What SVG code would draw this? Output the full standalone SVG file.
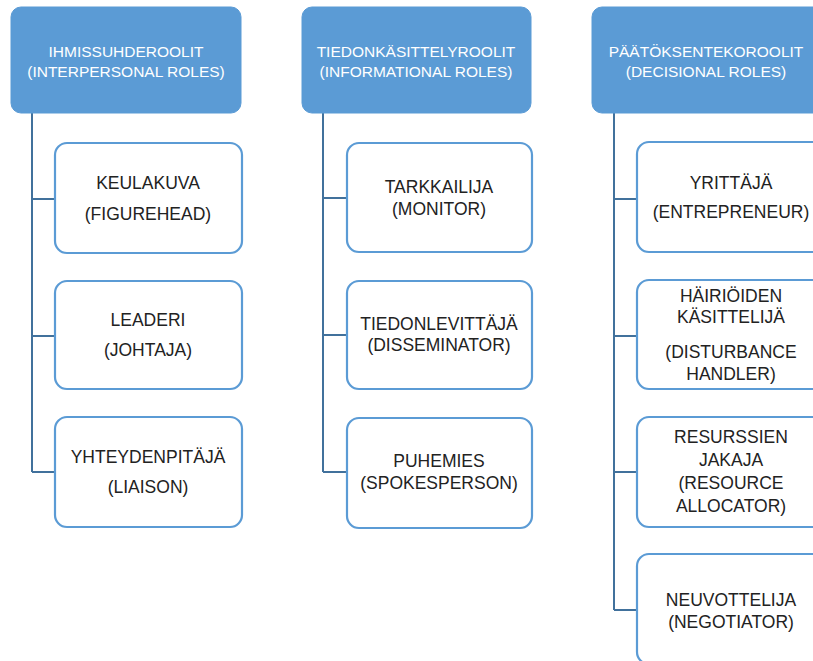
<svg xmlns="http://www.w3.org/2000/svg" width="813" height="661" viewBox="0 0 813 661">
<style>
.hdr{fill:#5B9BD5;stroke:#5B9BD5;stroke-width:1}
.box{fill:#FFFFFF;stroke:#5B9BD5;stroke-width:2.2}
.ht{font-family:"Liberation Sans",Arial,sans-serif;font-size:15.5px;fill:#FFFFFF;text-anchor:middle}
.bt{font-family:"Liberation Sans",Arial,sans-serif;font-size:17.5px;fill:#222222;text-anchor:middle}
.con{fill:none;stroke:#41719C;stroke-width:2}
</style>
<rect width="813" height="661" fill="#FFFFFF"/>
<g id="connectors">
<path class="con" d="M32,113 V472 M32,199 H55 M32,336 H55 M32,472 H55"/>
<path class="con" d="M323,113 V472 M323,198 H347 M323,335 H347 M323,472 H347"/>
<path class="con" d="M614,113 V610 M614,199 H637 M614,336 H637 M614,472 H637 M614,610 H637"/>
</g>
<g id="h1"><rect class="hdr" x="11" y="7" width="230" height="106" rx="10"/>
<text class="ht" x="126" y="57">IHMISSUHDEROOLIT</text><text class="ht" x="126" y="77">(INTERPERSONAL ROLES)</text></g>
<g id="h2"><rect class="hdr" x="302" y="7" width="229" height="106" rx="10"/>
<text class="ht" x="416" y="57">TIEDONKÄSITTELYROOLIT</text><text class="ht" x="416" y="77">(INFORMATIONAL ROLES)</text></g>
<g id="h3"><rect class="hdr" x="592" y="7" width="232" height="106" rx="10"/>
<text class="ht" x="706" y="57">PÄÄTÖKSENTEKOROOLIT</text><text class="ht" x="706" y="77">(DECISIONAL ROLES)</text></g>

<g id="c1a"><rect class="box" x="55" y="143" width="187" height="110" rx="12"/>
<text class="bt" x="148" y="189">KEULAKUVA</text><text class="bt" x="148" y="220">(FIGUREHEAD)</text></g>
<g id="c1b"><rect class="box" x="55" y="281" width="187" height="108" rx="12"/>
<text class="bt" x="148" y="326">LEADERI</text><text class="bt" x="148" y="356">(JOHTAJA)</text></g>
<g id="c1c"><rect class="box" x="55" y="417" width="187" height="110" rx="12"/>
<text class="bt" x="148" y="463">YHTEYDENPITÄJÄ</text><text class="bt" x="148" y="493">(LIAISON)</text></g>

<g id="c2a"><rect class="box" x="347" y="143" width="185" height="109" rx="12"/>
<text class="bt" x="439" y="193">TARKKAILIJA</text><text class="bt" x="439" y="215">(MONITOR)</text></g>
<g id="c2b"><rect class="box" x="347" y="281" width="185" height="108" rx="12"/>
<text class="bt" x="439" y="330">TIEDONLEVITTÄJÄ</text><text class="bt" x="439" y="351">(DISSEMINATOR)</text></g>
<g id="c2c"><rect class="box" x="347" y="418" width="185" height="110" rx="12"/>
<text class="bt" x="439" y="467">PUHEMIES</text><text class="bt" x="439" y="489">(SPOKESPERSON)</text></g>

<g id="c3a"><rect class="box" x="637" y="142" width="188" height="110" rx="12"/>
<text class="bt" x="731" y="189">YRITTÄJÄ</text><text class="bt" x="731" y="218">(ENTREPRENEUR)</text></g>
<g id="c3b"><rect class="box" x="637" y="280" width="188" height="109" rx="12"/>
<text class="bt" x="731" y="302">HÄIRIÖIDEN</text><text class="bt" x="731" y="323">KÄSITTELIJÄ</text>
<text class="bt" x="731" y="358">(DISTURBANCE</text><text class="bt" x="731" y="380">HANDLER)</text></g>
<g id="c3c"><rect class="box" x="637" y="417" width="188" height="110" rx="12"/>
<text class="bt" x="731" y="443">RESURSSIEN</text><text class="bt" x="731" y="466">JAKAJA</text>
<text class="bt" x="731" y="489">(RESOURCE</text><text class="bt" x="731" y="512">ALLOCATOR)</text></g>
<g id="c3d"><rect class="box" x="637" y="554" width="188" height="110" rx="12"/>
<text class="bt" x="731" y="606">NEUVOTTELIJA</text><text class="bt" x="731" y="628">(NEGOTIATOR)</text></g>
</svg>
